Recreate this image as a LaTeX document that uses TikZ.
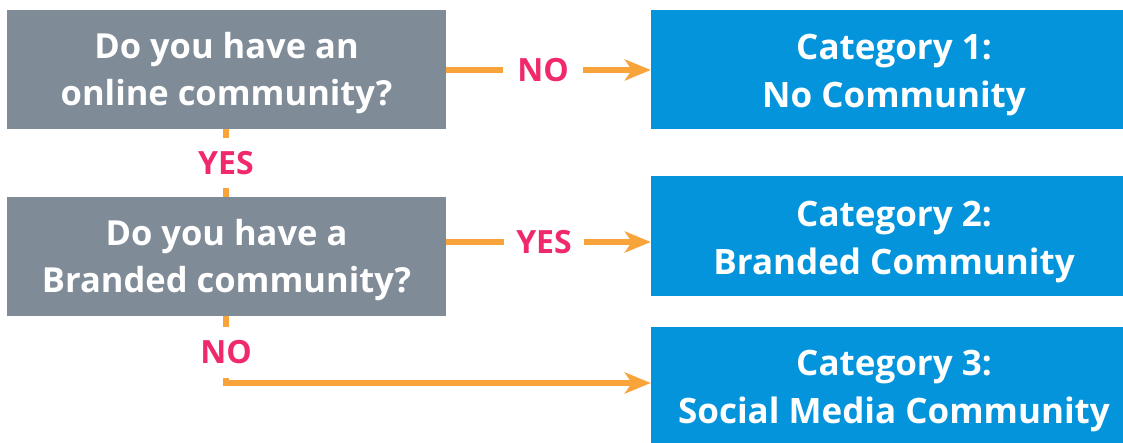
\documentclass[tikz,border=0pt]{standalone}
\usepackage{fontspec}
\setmainfont{Open Sans}
\usetikzlibrary{arrows.meta}
\definecolor{qgray}{HTML}{808B98}
\definecolor{catblue}{HTML}{0494DC}
\definecolor{flow}{HTML}{F9A43A}
\definecolor{lblpink}{HTML}{F0296A}
\newcommand{\qstrut}{\rule{0pt}{33.7pt}}
\newcommand{\cstrut}{\rule{0pt}{36.8pt}}
\begin{document}
\begin{tikzpicture}[x=1pt,y=-1pt,
  question/.style={fill=qgray,text=white,font=\bfseries\fontsize{34.5}{47}\selectfont,
    align=center,minimum width=439pt,minimum height=119pt,inner sep=0pt},
  category/.style={fill=catblue,text=white,font=\bfseries\fontsize{35}{48}\selectfont,
    align=center,minimum width=486pt,inner sep=0pt},
  answer/.style={fill=white,text=lblpink,font=\bfseries\fontsize{32}{32}\selectfont,inner sep=0pt},
  flowline/.style={draw=flow,line width=5.3pt},
  flowarrow/.style={flowline,-{Stealth[length=26pt,width=21pt,inset=7pt]}}]
\useasboundingbox (0,0) rectangle (1123,443);
\fill[white] (0,0) rectangle (1123,443);
\node[question] (q1) at (226.5,69.5) {\qstrut Do you have an\\online community?};
\node[question] (q2) at (226.5,256.5) {\qstrut Do you have a\\Branded community?};
\node[category,minimum height=119pt] (c1) at (894,69.5) {\cstrut Category 1:\\No Community};
\node[category,minimum height=120pt] (c2) at (894,236) {\cstrut Category 2:\\Branded Community};
\node[category,minimum height=116pt] (c3) at (894,385) {\cstrut Category 3:\\Social Media Community};
% labels
\node[answer,minimum width=79pt,minimum height=40pt] (l1) at (543,70) {NO};
\node[answer,minimum width=80pt,minimum height=40pt] (l2) at (544,242) {YES};
\node[answer,minimum width=60pt,minimum height=50pt] (l3) at (226,163) {YES};
\node[answer,minimum width=60pt,minimum height=51pt] (l4) at (226,352.5) {NO};
\coordinate (corner) at (226,383);
% connectors
\draw[flowline] (q1.east |- l1) -- (l1.west);
\draw[flowarrow] (l1.east) -- (c1.west |- l1);
\draw[flowline] (q2.east |- l2) -- (l2.west);
\draw[flowarrow] (l2.east) -- (c2.west |- l2);
\draw[flowline] (q1.south -| l3) -- (l3.north);
\draw[flowline] (l3.south) -- (q2.north -| l3);
\draw[flowline] (q2.south -| l4) -- (l4.north);
\draw[flowarrow] (l4.south) -- (corner) -- (c3.west |- corner);
\end{tikzpicture}
\end{document}
